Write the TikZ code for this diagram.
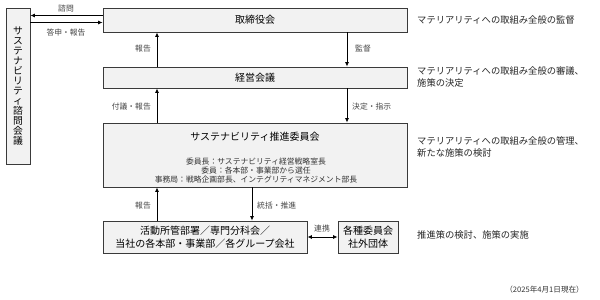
\documentclass[tikz,border=0pt]{standalone}
\usepackage{fontspec}
\setmainfont{Noto Sans CJK JP}
\usetikzlibrary{arrows.meta}
\definecolor{boxfill}{HTML}{F2F2F2}
\definecolor{boxline}{HTML}{3A3A3A}
\definecolor{lbl}{HTML}{444444}
\tikzset{
  box/.style={draw=boxline, fill=boxfill, line width=0.9pt, inner sep=0pt, align=center, font=\fontsize{10}{12.5}\selectfont},
  arr/.style={-{Latex[length=4.5pt,width=4pt]}, line width=0.8pt, draw=black},
  darr/.style={{Latex[length=4.5pt,width=4pt]}-{Latex[length=4.5pt,width=4pt]}, line width=0.8pt, draw=black},
  lab/.style={font=\fontsize{7.8}{9}\selectfont, text=lbl, inner sep=0pt},
  note/.style={font=\fontsize{9.3}{12.5}\selectfont, text=black!85, align=left, anchor=west, inner sep=0pt},
}
\begin{document}
\begin{tikzpicture}[x=1pt,y=-1pt]
\useasboundingbox (0,0) rectangle (600,300);
% boxes
\node[box, minimum width=24pt, minimum height=156pt, font=\fontsize{9.8}{10}\selectfont] (adv) at (18,86)
  {サ\\ス\\テ\\ナ\\ビ\\リ\\テ\\ィ\\諮\\問\\会\\議};
\node[box, minimum width=304pt, minimum height=24pt] (board) at (255,20) {取締役会};
\node[box, minimum width=304pt, minimum height=21pt] (mgmt) at (255,77.5) {経営会議};
\node[box, minimum width=304pt, minimum height=64pt] (comm) at (255,155) {};
\node[font=\fontsize{10}{12}\selectfont, inner sep=0pt] (commt) at (255,137) {サステナビリティ推進委員会};
\node[align=center, font=\fontsize{7.8}{8.7}\selectfont, text=black!80, inner sep=0pt] (commd) at (256,170.5)
  {委員長：サステナビリティ経営戦略室長\\委員：各本部・事業部から選任\\事務局：戦略企画部長、インテグリティマネジメント部長};
\node[box, minimum width=204pt, minimum height=32pt] (act) at (205,237)
  {活動所管部署／専門分科会／\\当社の各本部・事業部／各グループ会社};
\node[box, minimum width=60pt, minimum height=32pt] (ext) at (368,237)
  {各種委員会\\社外団体};
% helper coordinates
\coordinate (xl) at (157,0);
\coordinate (xr) at (347,0);
\coordinate (xm) at (252,0);
\coordinate (h1) at (0,15.5);
\coordinate (h2) at (0,22.5);
% connectors
\draw[arr] (board.west |- h1) -- (adv.east |- h1);
\draw[arr] (adv.east |- h2) -- (board.west |- h2);
\draw[arr] (mgmt.north -| xl) -- (board.south -| xl);
\draw[arr] (board.south -| xr) -- (mgmt.north -| xr);
\draw[arr] (comm.north -| xl) -- (mgmt.south -| xl);
\draw[arr] (mgmt.south -| xr) -- (comm.north -| xr);
\draw[arr] (act.north -| xl) -- (comm.south -| xl);
\draw[arr] (comm.south -| xm) -- (act.north -| xm);
\draw[darr] (act.east) -- (ext.west);
% labels
\node[lab] (l1) at (66,9) {諮問};
\node[lab] (l2) at (66,33) {答申・報告};
\node[lab] (l3) at (143,49) {報告};
\node[lab] (l4) at (363,49) {監督};
\node[lab, anchor=east] (l5) at (151,107) {付議・報告};
\node[lab, anchor=west] (l6) at (352,107) {決定・指示};
\node[lab] (l7) at (143,206) {報告};
\node[lab, anchor=west] (l8) at (257,206) {統括・推進};
\node[lab] (l9) at (322,229) {連携};
% notes
\node[note] (n1) at (417,20) {マテリアリティへの取組み全般の監督};
\node[note] (n2) at (417,77) {マテリアリティへの取組み全般の審議、\\施策の決定};
\node[note] (n3) at (417,147) {マテリアリティへの取組み全般の管理、\\新たな施策の検討};
\node[note] (n4) at (417,235) {推進策の検討、施策の実施};
\node[font=\fontsize{7.6}{8}\selectfont, anchor=east, inner sep=0pt, text=black!80] (date) at (584,290) {（2025年4月1日現在）};
\end{tikzpicture}
\end{document}
